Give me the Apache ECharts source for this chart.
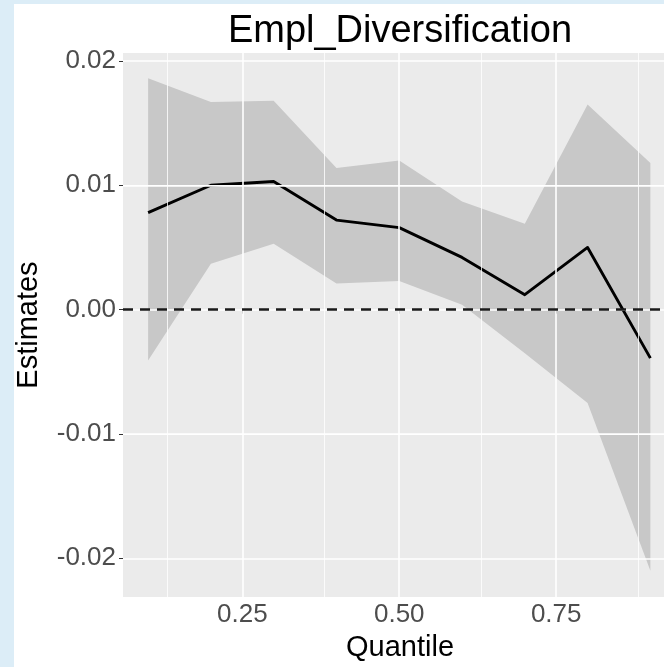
<!DOCTYPE html>
<html>
<head>
<meta charset="utf-8">
<script src="https://cdn.jsdelivr.net/npm/echarts@6/dist/echarts.min.js"></script>
<style>
  html, body { margin: 0; padding: 0; width: 664px; height: 667px; overflow: hidden; background: #dcedf7; }
  #paper { position: absolute; left: 14px; top: 4px; right: 0; bottom: 0; background: #ffffff; }
  #chart { position: absolute; left: 0; top: 0; width: 664px; height: 667px; }
</style>
</head>
<body>
<div id="paper"></div>
<div id="chart"></div>
<script>
// ---- data ----
const quantiles = [0.1, 0.2, 0.3, 0.4, 0.5, 0.6, 0.7, 0.8, 0.9];
const estimates = [0.0078, 0.0100, 0.0103, 0.0072, 0.0066, 0.0042, 0.0012, 0.0050, -0.0039];
const upperCI   = [0.0186, 0.0167, 0.0168, 0.0114, 0.0120, 0.0087, 0.0069, 0.0165, 0.0118];
const lowerCI   = [-0.0041, 0.0037, 0.0053, 0.0021, 0.0023, 0.0004, -0.0035, -0.0075, -0.0210];

const xTicks = [0.25, 0.50, 0.75];
const xMinor = [0.125, 0.375, 0.625, 0.875];
const yTicks = [-0.02, -0.01, 0.00, 0.01, 0.02];
const yMinor = [-0.015, -0.005, 0.005, 0.015];
const refLine = 0;

const chart = echarts.init(document.getElementById('chart'), null, { renderer: 'canvas' });

const FONT = '"Liberation Sans", Arial, sans-serif';

const pair = (arr) => quantiles.map((q, i) => [q, arr[i]]);
const bandData = quantiles.map((q, i) => [q, lowerCI[i], upperCI[i]]);

const solid = (w) => ({ color: '#ffffff', width: w, type: 'solid' });
const gridLines = []
  .concat(xMinor.map(v => ({ xAxis: v, lineStyle: solid(0.8) })))
  .concat(yMinor.map(v => ({ yAxis: v, lineStyle: solid(0.8) })))
  .concat(xTicks.map(v => ({ xAxis: v, lineStyle: solid(1.6) })))
  .concat(yTicks.map(v => ({ yAxis: v, lineStyle: solid(1.6) })));

const option = {
  animation: false,
  backgroundColor: 'transparent',
  textStyle: { fontFamily: FONT },
  title: {
    text: 'Empl_Diversification',
    left: 395, top: 8, textAlign: 'center',
    textStyle: { fontFamily: FONT, fontSize: 38, fontWeight: 'normal', color: '#000000' }
  },
  grid: {
    left: 123, top: 53, right: 0, bottom: 67,
    show: true, backgroundColor: '#ebebeb', borderWidth: 0
  },
  xAxis: {
    type: 'value', min: 0.06, max: 0.9217,
    name: 'Quantile', nameLocation: 'middle', nameGap: 28,
    nameTextStyle: { fontFamily: FONT, fontSize: 29, color: '#000000', padding: [0, 0, 0, 13] },
    axisLine: { show: false },
    splitLine: { show: false },
    axisTick: { show: true, customValues: xTicks, length: 4, lineStyle: { color: '#333333', width: 1 } },
    axisLabel: { customValues: xTicks, fontFamily: FONT, fontSize: 26, color: '#4d4d4d', margin: 5,
                 formatter: v => v.toFixed(2) }
  },
  yAxis: {
    type: 'value', min: -0.02312, max: 0.02064,
    name: 'Estimates', nameLocation: 'middle', nameGap: 80,
    nameTextStyle: { fontFamily: FONT, fontSize: 29, color: '#000000' },
    axisLine: { show: false },
    splitLine: { show: false },
    axisTick: { show: true, customValues: yTicks, length: 4, lineStyle: { color: '#333333', width: 1 } },
    axisLabel: { customValues: yTicks, fontFamily: FONT, fontSize: 26, color: '#4d4d4d', margin: 7,
                 formatter: v => v.toFixed(2) }
  },
  series: [
    {
      name: 'grid', type: 'line', data: [], z: 1, silent: true,
      markLine: { silent: true, symbol: 'none', label: { show: false }, animation: false, data: gridLines }
    },
    {
      name: 'band', type: 'custom', data: bandData, z: 2, silent: true,
      encode: { x: 0, y: [1, 2] },
      renderItem: function (params, api) {
        if (params.dataIndex !== 0) return null;
        const top = bandData.map(d => api.coord([d[0], d[2]]));
        const bot = bandData.slice().reverse().map(d => api.coord([d[0], d[1]]));
        return {
          type: 'polygon',
          shape: { points: top.concat(bot) },
          style: { fill: 'rgba(0,0,0,0.15)', stroke: 'none' }
        };
      }
    },
    {
      name: 'estimate', type: 'line', data: pair(estimates), symbol: 'none', z: 3,
      lineStyle: { color: '#000000', width: 2.9, join: 'round' }
    },
    {
      name: 'zero', type: 'line', data: [], z: 4,
      markLine: {
        silent: true, symbol: 'none', label: { show: false }, animation: false,
        data: [{ yAxis: refLine }],
        lineStyle: { color: '#1a1a1a', width: 2.6, type: [10, 7] }
      }
    }
  ]
};

chart.setOption(option);
</script>
</body>
</html>
